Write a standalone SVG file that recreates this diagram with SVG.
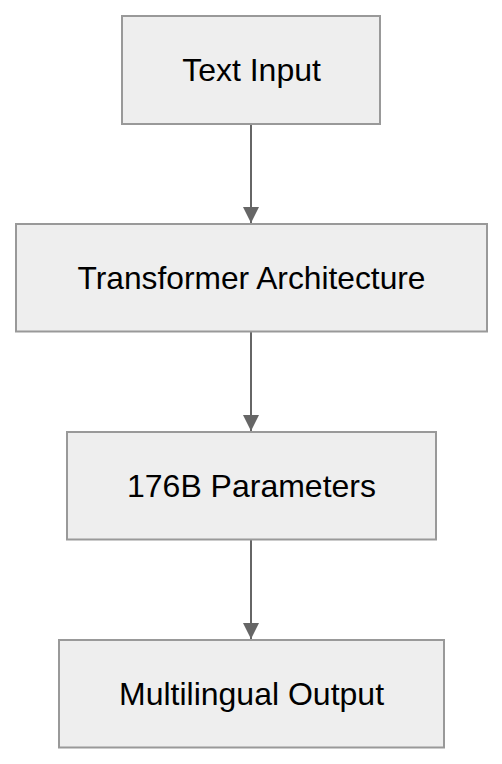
<svg xmlns="http://www.w3.org/2000/svg" width="502" height="764" viewBox="0 0 502 764">
<style>
.node rect{fill:#eeeeee;stroke:#999999;stroke-width:2}
.node text{font-family:"Liberation Sans",Arial,sans-serif;font-size:32px;fill:#000000;text-anchor:middle}
.edge{stroke:#666666;stroke-width:2;fill:none}
</style>
<defs>
<marker id="arrow" markerWidth="16" markerHeight="16" refX="16" refY="8" orient="auto" markerUnits="userSpaceOnUse" viewBox="0 0 16 16">
<path d="M0,0 L16,8 L0,16 z" fill="#666666"/>
</marker>
</defs>
<rect width="502" height="764" fill="#ffffff"/>
<g id="connectors">
<line class="edge" x1="251" y1="124" x2="251" y2="223" marker-end="url(#arrow)"/>
<line class="edge" x1="251" y1="331.5" x2="251" y2="431" marker-end="url(#arrow)"/>
<line class="edge" x1="251" y1="539.5" x2="251" y2="639" marker-end="url(#arrow)"/>
</g>
<g id="text-input" class="node">
<rect x="122" y="16" width="258" height="108"/>
<text x="251.5" y="81">Text Input</text>
</g>
<g id="transformer-architecture" class="node">
<rect x="16" y="224" width="471" height="107.5"/>
<text x="251.5" y="289" textLength="348" lengthAdjust="spacingAndGlyphs">Transformer Architecture</text>
</g>
<g id="parameters" class="node">
<rect x="67" y="432" width="369" height="107.5"/>
<text x="251.5" y="497">176B Parameters</text>
</g>
<g id="multilingual-output" class="node">
<rect x="59" y="640" width="385" height="107.5"/>
<text x="251.5" y="705">Multilingual Output</text>
</g>
</svg>
